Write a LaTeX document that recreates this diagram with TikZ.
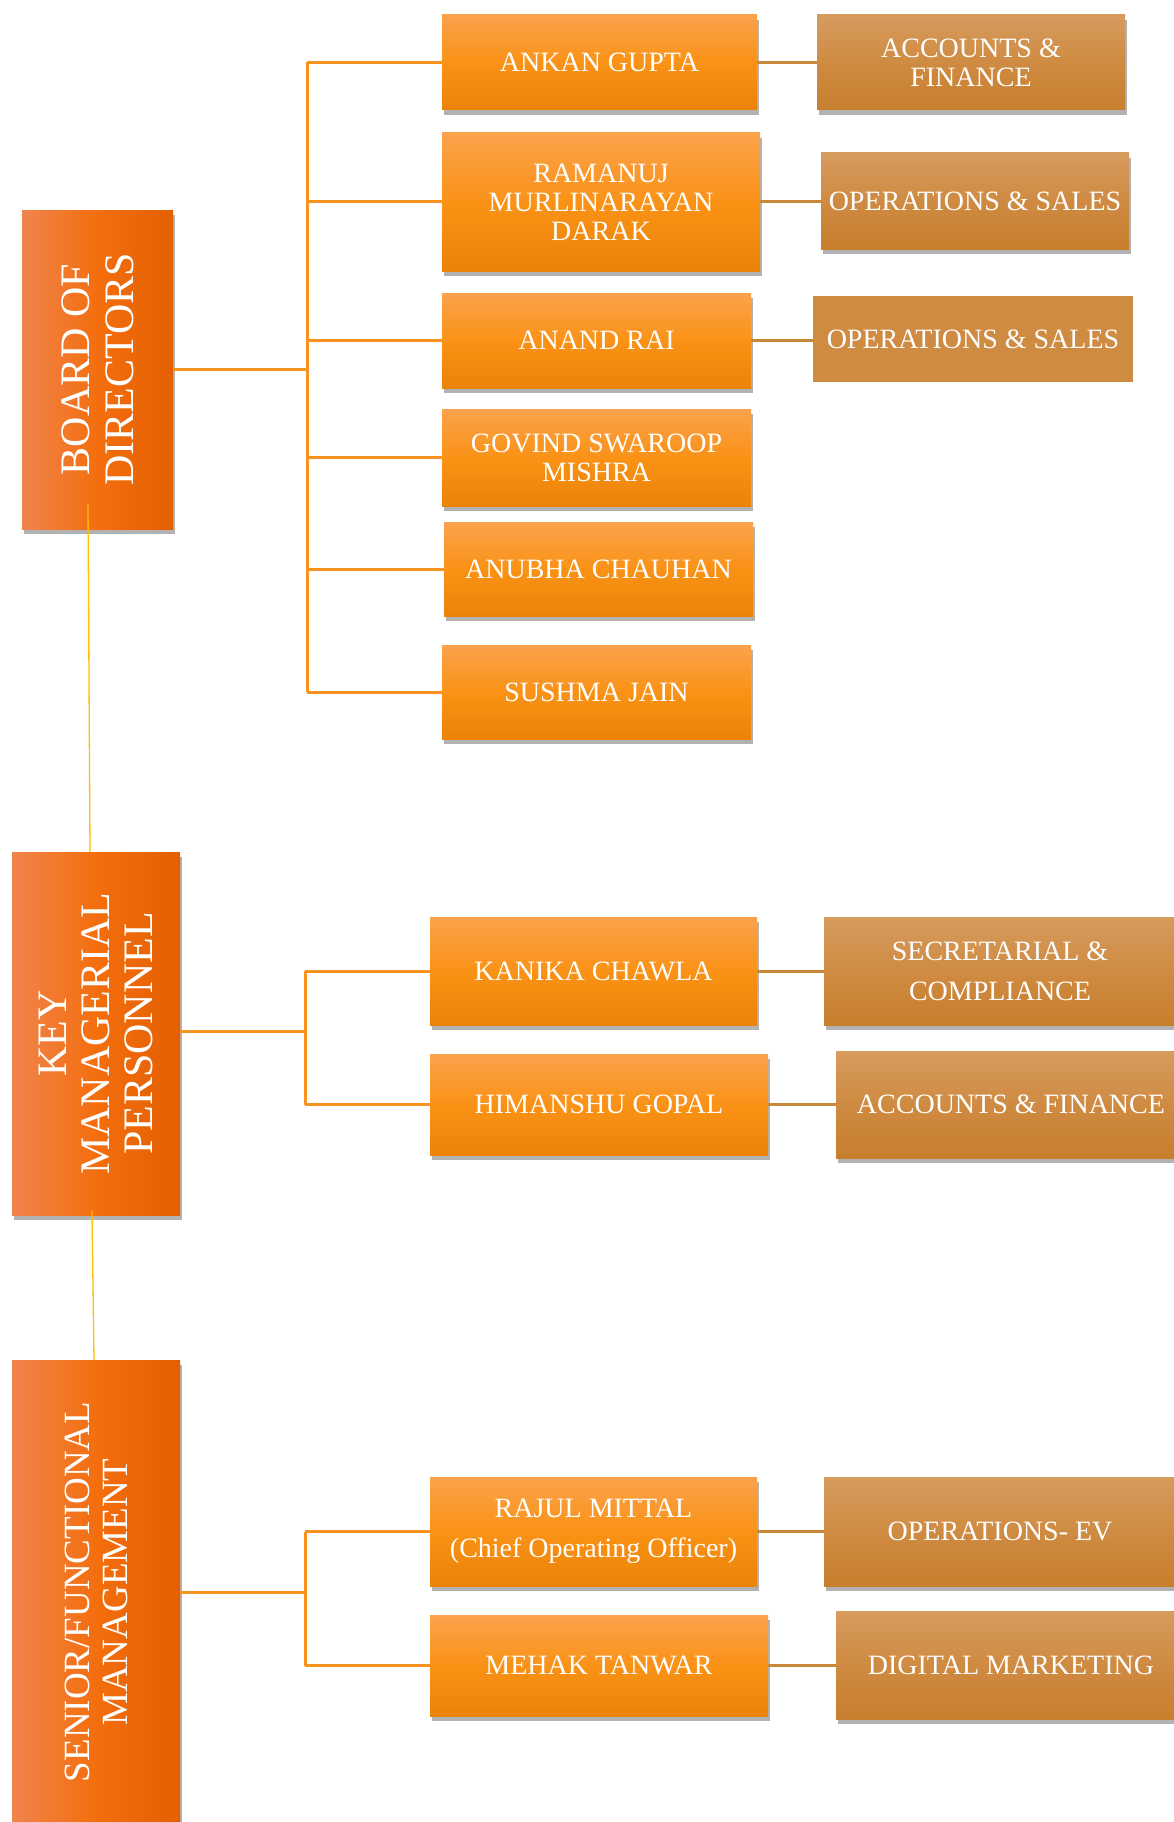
\documentclass[tikz,border=0pt]{standalone}
\usepackage{fontspec}
\setmainfont{Liberation Serif}
\usetikzlibrary{shadows}
\definecolor{leadL}{HTML}{F0844C}
\definecolor{leadM}{HTML}{F46E0E}
\definecolor{leadR}{HTML}{E35F00}
\definecolor{nameTop}{HTML}{FBA24C}
\definecolor{nameMid}{HTML}{FA9216}
\definecolor{nameBot}{HTML}{EA8307}
\definecolor{deptTop}{HTML}{D69B5E}
\definecolor{deptMid}{HTML}{CF8B42}
\definecolor{deptBot}{HTML}{C77E2D}
\definecolor{deptFlat}{HTML}{CE8B41}
\definecolor{orline}{HTML}{F7931E}
\definecolor{brline}{HTML}{C8883A}
\definecolor{yline}{HTML}{FFC000}
\begin{document}
\begin{tikzpicture}[x=1pt,y=-1pt,
  sz/.style 2 args={minimum width=#1pt, minimum height=#2pt},
  shad/.style={drop shadow={shadow xshift=1.5pt, shadow yshift=-5pt, fill=black!55, opacity=.55}},
  namebox/.style={rectangle, inner sep=0pt, shad, top color=nameTop, bottom color=nameBot, middle color=nameMid, text=white, align=center, font=\fontsize{28}{29}\selectfont},
  deptbox/.style={rectangle, inner sep=0pt, shad, top color=deptTop, bottom color=deptBot, middle color=deptMid, text=white, align=center, font=\fontsize{28}{29}\selectfont},
  deptflat/.style={rectangle, inner sep=0pt, fill=deptFlat, text=white, align=center, font=\fontsize{28}{29}\selectfont},
  leadbox/.style={rectangle, inner sep=0pt, shad, left color=leadL, right color=leadR, middle color=leadM},
  leadtext/.style={rotate=90, text=white, align=center, inner sep=0pt},
  orconn/.style={draw=orline, line width=3pt},
  brconn/.style={draw=brline, line width=3pt},
  yconn/.style={draw=yline, line width=1.3pt}
]
\useasboundingbox (0,0) rectangle (1174,1822);
\fill[white] (0,0) rectangle (1174,1822);

% ---------- Board of Directors ----------
\node[leadbox, sz={151}{319}] (bod) at (97.5,369.5) {};
\node[leadtext, font=\fontsize{42}{44}\selectfont] (bodt) at (bod.center) {BOARD OF\\DIRECTORS};

\node[namebox, sz={315}{95}] (ankan) at (599.5,62.5) {ANKAN GUPTA};
\node[namebox, sz={318}{138}] (ramanuj) at (601,202) {RAMANUJ\\MURLINARAYAN\\DARAK};
\node[namebox, sz={309}{95}] (anand) at (596.5,340.5) {ANAND RAI};
\node[namebox, sz={309}{97}] (govind) at (596.5,457.5) {GOVIND SWAROOP\\MISHRA};
\node[namebox, sz={309}{94}] (anubha) at (598.5,569) {ANUBHA CHAUHAN};
\node[namebox, sz={309}{94}] (sushma) at (596.5,692) {SUSHMA JAIN};

\node[deptbox, sz={308}{95}] (acc1) at (971,62.5) {ACCOUNTS \&\\FINANCE};
\node[deptbox, sz={308}{96}] (ops1) at (975,201) {OPERATIONS \& SALES};
\node[deptflat, sz={320}{86}] (ops2) at (973,339) {OPERATIONS \& SALES};

\coordinate (f1) at (307,369.5);
\draw[orconn] (bod.east) -- (f1);
\draw[orconn] (f1 |- ankan.west) -- (f1 |- sushma.west);
\foreach \n in {ankan,ramanuj,anand,govind,anubha,sushma}
  \draw[orconn] (f1 |- \n.west) -- (\n.west);
\draw[brconn] (ankan.east) -- (ankan.east -| acc1.west);
\draw[brconn] (ramanuj.east) -- (ramanuj.east -| ops1.west);
\draw[brconn] (anand.east) -- (anand.east -| ops2.west);

% ---------- Key Managerial Personnel ----------
\node[leadbox, sz={168}{363}] (kmp) at (96,1033.5) {};
\node[leadtext, font=\fontsize{42}{43}\selectfont] (kmpt) at (kmp.center) {KEY\\MANAGERIAL\\PERSONNEL};

\node[namebox, sz={327}{108}] (kanika) at (593.5,971) {KANIKA CHAWLA};
\node[namebox, sz={338}{101}] (himanshu) at (599,1104.5) {HIMANSHU GOPAL};
\node[deptbox, sz={352}{108}] (sec) at (1000,971) {SECRETARIAL \&\\[11pt]COMPLIANCE};
\node[deptbox, sz={350}{107}] (acc2) at (1011,1104.5) {ACCOUNTS \& FINANCE};

\coordinate (f2) at (305,1031);
\draw[orconn] (kmp.east |- f2) -- (f2);
\draw[orconn] (f2 |- kanika.west) -- (f2 |- himanshu.west);
\draw[orconn] (f2 |- kanika.west) -- (kanika.west);
\draw[orconn] (f2 |- himanshu.west) -- (himanshu.west);
\draw[brconn] (kanika.east) -- (kanika.east -| sec.west);
\draw[brconn] (himanshu.east) -- (himanshu.east -| acc2.west);

% ---------- Senior/Functional Management ----------
\node[leadbox, sz={168}{470}] (sfm) at (96,1595) {};
\node[leadtext, font=\fontsize{37}{38}\selectfont] (sfmt) at ([yshift=3pt]sfm.center) {SENIOR/FUNCTIONAL\\MANAGEMENT};

\node[namebox, sz={327}{109}] (rajul) at (593.5,1531.5) {RAJUL MITTAL\\[11pt](Chief Operating Officer)};
\node[namebox, sz={338}{101}] (mehak) at (599,1665.5) {MEHAK TANWAR};
\node[deptbox, sz={352}{109}] (opsev) at (1000,1531.5) {OPERATIONS- EV};
\node[deptbox, sz={350}{108}] (digi) at (1011,1665) {DIGITAL MARKETING};

\coordinate (f3) at (305,1592);
\draw[orconn] (sfm.east |- f3) -- (f3);
\draw[orconn] (f3 |- rajul.west) -- (f3 |- mehak.west);
\draw[orconn] (f3 |- rajul.west) -- (rajul.west);
\draw[orconn] (f3 |- mehak.west) -- (mehak.west);
\draw[brconn] (rajul.east) -- (rajul.east -| opsev.west);
\draw[brconn] (mehak.east) -- (mehak.east -| digi.west);

% ---------- level links ----------
\draw[yconn] ([xshift=-9.5pt,yshift=25pt]bod.south) -- ([xshift=-6pt]kmp.north);
\draw[yconn] ([xshift=-4pt,yshift=4pt]kmp.south) -- ([xshift=-2pt]sfm.north);
\end{tikzpicture}
\end{document}
